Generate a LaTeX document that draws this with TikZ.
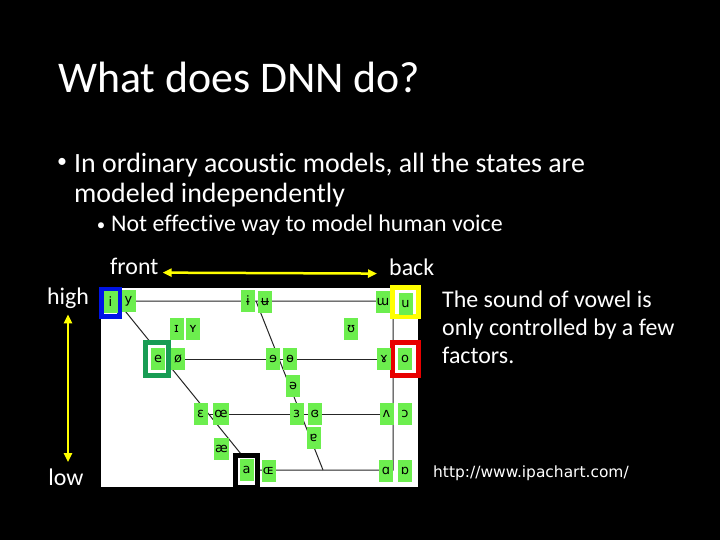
\documentclass[tikz,border=0pt]{standalone}
\usepackage{fontspec}
\setmainfont{Carlito}[Ligatures=NoCommon]
\newfontfamily\dejavu{DejaVu Sans}
\usetikzlibrary{arrows.meta}

\definecolor{vgreen}{RGB}{108,238,78}
\definecolor{hgreen}{RGB}{24,156,84}
\definecolor{hblue}{RGB}{0,20,230}
\definecolor{hred}{RGB}{232,0,0}
\definecolor{hyellow}{RGB}{255,255,0}

\begin{document}
\begin{tikzpicture}[x=1bp, y=-1bp,
        txt/.style={text=white, inner sep=0pt, anchor=base west},
        vowel/.style={fill=vgreen, minimum width=14bp, minimum height=22bp, inner sep=1bp, font=\dejavu\fontsize{13}{13}\selectfont},
        hilite/.style={draw=#1, line width=5bp, fill=white},
        yarrow/.style={{Triangle[length=9bp,width=8bp]}-{Triangle[length=9bp,width=8bp]}, hyellow, line width=2.5bp},
        chart/.style={black!85, line width=1bp}]
        \fill[black] (0,0) rectangle (720,540);
        \fill[white] (101,288) rectangle (418,487);

        \node[txt, font=\fontsize{44}{44}\selectfont] (title) at (58,93) {What does DNN do?};
        \node[txt, anchor=base, font=\fontsize{20}{20}\selectfont] (dot1) at (62,168) {•};
        \node[txt, font=\fontsize{28}{28}\selectfont] (line1) at (74,173) {In ordinary acoustic models, all the states are};
        \node[txt, font=\fontsize{28}{28}\selectfont] (line2) at (74,203) {modeled independently};
        \node[txt, anchor=base, font=\fontsize{17}{17}\selectfont] (dot2) at (101,231) {•};
        \node[txt, font=\fontsize{24}{24}\selectfont] (line3) at (111,232) {Not effective way to model human voice};

        \node[txt, font=\fontsize{24}{24}\selectfont] (front) at (110,275) {front};
        \node[txt, font=\fontsize{24}{24}\selectfont] (back) at (389,276) {back};
        \node[txt, anchor=base, font=\fontsize{24}{24}\selectfont] (high) at (68,304) {high};
        \node[txt, anchor=base, font=\fontsize{24}{24}\selectfont] (low) at (66,485) {low};
        \draw[yarrow, shorten <=4bp, shorten >=12bp] (front.mid east) -- (back.mid west);
        \draw[yarrow, shorten <=6bp, shorten >=6bp] (high.south) -- (high.south |- low.north);

        \node[txt, font=\fontsize{24}{24}\selectfont] (say1) at (442,307) {The sound of vowel is};
        \node[txt, font=\fontsize{24}{24}\selectfont] (say2) at (442,335) {only controlled by a few};
        \node[txt, font=\fontsize{24}{24}\selectfont] (say3) at (442,363) {factors.};
        \node[txt, font=\dejavu\fontsize{15.5}{15.5}\selectfont] (url) at (433,477) {http://www.ipachart.com/};

        \coordinate (closefront) at (117,301);
        \coordinate (closeback) at (393,301);
        \coordinate (openfront) at (254,470);
        \coordinate (openback) at (393,470);
        \coordinate (closemid) at (256,301);
        \coordinate (openmid) at (323,470);
        \coordinate (midfront) at (164,359);
        \coordinate (midback) at (393,359);
        \coordinate (lowfront) at (209,414);
        \coordinate (lowback) at (393,414);
        \draw[chart] (closefront) -- (closeback) -- (openback) -- (openfront) -- cycle;
        \draw[chart] (closemid) -- (openmid);
        \draw[chart] (midfront) -- (midback);
        \draw[chart] (lowfront) -- (lowback);

        \node[hilite=hblue, minimum width=18bp, minimum height=27bp] (hi) at (110.5,303) {};
        \node[hilite=hyellow, minimum width=26bp, minimum height=29bp] (hu) at (405.5,302) {};
        \node[hilite=hgreen, minimum width=23bp, minimum height=33bp] (he) at (157,359) {};
        \node[hilite=hred, minimum width=26bp, minimum height=33bp] (ho) at (405.5,359) {};
        \node[hilite=black, minimum width=22bp, minimum height=32bp] (ha) at (246.5,471.5) {};

        \node[vowel] (vi) at (110.5,302) {i};
        \node[vowel] (vy) at (128.5,301) {y};
        \node[vowel] (vbari) at (248,301) {ɨ};
        \node[vowel] (vbaru) at (265,302) {ʉ};
        \node[vowel] (vturnm) at (383,302) {ɯ};
        \node[vowel] (vu) at (405.5,304) {u};
        \node[vowel] (vsmi) at (176.5,329) {ɪ};
        \node[vowel] (vsmy) at (193,329) {ʏ};
        \node[vowel] (vhorse) at (351,329) {ʊ};
        \node[vowel] (ve) at (158,358.5) {e};
        \node[vowel] (vslo) at (178,358.5) {ø};
        \node[vowel] (vreve) at (273,359) {ɘ};
        \node[vowel] (vbaro) at (290,359) {ɵ};
        \node[vowel] (vramshorn) at (384,359) {ɤ};
        \node[vowel] (vo) at (405,359) {o};
        \node[vowel] (vschwa) at (293,386) {ə};
        \node[vowel] (veps) at (200.5,414) {ɛ};
        \node[vowel] (voe) at (221,414) {œ};
        \node[vowel] (vreveps) at (296.5,414) {ɜ};
        \node[vowel] (vcloseeps) at (315,414) {ɞ};
        \node[vowel] (vturnv) at (386.5,414) {ʌ};
        \node[vowel] (vopeno) at (405,414) {ɔ};
        \node[vowel] (vash) at (221.5,449) {æ};
        \node[vowel] (vturna) at (313.5,438) {ɐ};
        \node[vowel] (va) at (246.5,470) {a};
        \node[vowel] (vsmoe) at (268.5,471) {ɶ};
        \node[vowel] (vscripta) at (386,471) {ɑ};
        \node[vowel] (vturnscripta) at (405,471) {ɒ};
    \end{tikzpicture}
\end{document}
